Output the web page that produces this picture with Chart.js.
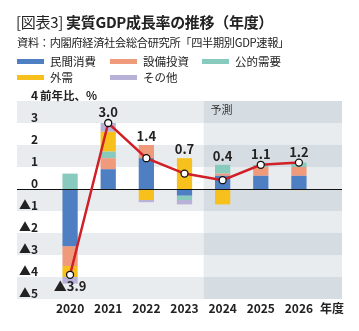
<!DOCTYPE html>
<html>
<head>
<meta charset="utf-8">
<script src="https://cdn.jsdelivr.net/npm/chart.js@4.4.1/dist/chart.umd.min.js"></script>
<style>
  body { margin: 0; background: #fff; }
  #wrap { position: relative; width: 359px; height: 331px; font-family: "Noto Sans CJK JP", "Noto Sans", sans-serif; color: #222; }
  #c { position: absolute; left: 0; top: 0; }
  .title { position: absolute; left: 16px; top: 11px; font-size: 15px; font-weight: bold; white-space: nowrap; letter-spacing: -0.3px; }
  .title span { font-weight: normal; }
  .sub { position: absolute; left: 17px; top: 34px; font-size: 11.2px; white-space: nowrap; letter-spacing: -0.3px; }
  .leg { position: absolute; font-size: 11.5px; white-space: nowrap; line-height: 14px; }
  .leg i { display: inline-block; width: 27px; height: 5px; vertical-align: middle; margin-right: 6px; position: relative; top: -1px; }
</style>
</head>
<body>
<div id="wrap">
  <canvas id="c" width="359" height="331"></canvas>
  <div class="title"><span>[図表3]</span> 実質GDP成長率の推移（年度）</div>
  <div class="sub">資料：内閣府経済社会総合研究所「四半期別GDP速報」</div>
  <div id="legend"></div>
</div>
<script>
const years = ['2020', '2021', '2022', '2023', '2024', '2025', '2026'];
const consumption = [-2.6, 0.9, 1.4, -0.3, 0.6, 0.6, 0.6];   // 民間消費
const capex = [-0.9, 0.5, 0.6, 0, 0.1, 0.4, 0.4];             // 設備投資
const publicDemand = [0.7, 0.3, 0, -0.2, 0.4, 0.1, 0.2];      // 公的需要
const external = [-0.5, 0.9, -0.5, 1.4, -0.7, 0, -0.05];      // 外需
const other = [-0.3, 0.4, -0.1, -0.2, 0, 0, 0];               // その他
const growth = [-3.9, 3.0, 1.4, 0.7, 0.4, 1.1, 1.2];          // 実質GDP成長率
const forecastFrom = '2024';

const series = [
    { label: '民間消費', data: consumption, color: '#4f7fc3' },
    { label: '設備投資', data: capex, color: '#ef9a7b' },
    { label: '公的需要', data: publicDemand, color: '#88cabd' },
    { label: '外需', data: external, color: '#f7c01c' },
    { label: 'その他', data: other, color: '#b9b2d8' }
];

// legend (html)
const legendPos = [[17, 54], [110, 54], [202, 54], [17, 70], [110, 70]];
const legendEl = document.getElementById('legend');
series.forEach((s, i) => {
    const d = document.createElement('div');
    d.className = 'leg';
    d.style.left = legendPos[i][0] + 'px';
    d.style.top = legendPos[i][1] + 'px';
    d.innerHTML = '<i style="background:' + s.color + '"></i>' + s.label;
    legendEl.appendChild(d);
});

const fontFamily = '"Noto Sans CJK JP", "Noto Sans", sans-serif';
const bandLeft = 17, bandRight = 342;

const backgroundPlugin = {
    id: 'bands',
    beforeDraw(chart) {
        const { ctx, scales: { x, y } } = chart;
        const fi = years.indexOf(forecastFrom);
        const split = (x.getPixelForValue(fi) + x.getPixelForValue(fi - 1)) / 2;
        ctx.save();
        for (let v = 4, k = 0; v > -5; v--, k++) {
            const top = y.getPixelForValue(v), bot = y.getPixelForValue(v - 1);
            const dark = k % 2 === 0;
            ctx.fillStyle = dark ? '#e9ecef' : '#ffffff';
            ctx.fillRect(bandLeft, top, split - bandLeft, bot - top);
            ctx.fillStyle = dark ? '#d6dde2' : '#e9ecef';
            ctx.fillRect(split, top, bandRight - split, bot - top);
        }
        ctx.fillStyle = '#333';
        ctx.font = '11px ' + fontFamily;
        ctx.textBaseline = 'middle';
        ctx.textAlign = 'left';
        ctx.fillText('予測', split + 7, y.getPixelForValue(3.6));
        ctx.restore();
    },
    beforeDatasetDraw(chart, args) {
        if (args.meta.type !== 'line') return;
        const { ctx, scales: { y } } = chart;
        const y0 = Math.round(y.getPixelForValue(0)) + 0.5;
        ctx.save();
        ctx.strokeStyle = '#111';
        ctx.lineWidth = 1;
        ctx.beginPath();
        ctx.moveTo(bandLeft, y0);
        ctx.lineTo(bandRight, y0);
        ctx.stroke();
        ctx.restore();
    },
    afterDatasetsDraw(chart) {
        const { ctx, scales: { x, y } } = chart;
        ctx.save();
        ctx.fillStyle = '#222';
        ctx.font = 'bold 13px ' + fontFamily;
        ctx.textAlign = 'center';
        ctx.textBaseline = 'middle';
        growth.forEach((g, i) => {
            const px = x.getPixelForValue(i);
            const dot = y.getPixelForValue(g);
            if (g >= 0) {
                let pos = 0;
                series.forEach(s => { if (s.data[i] > 0) pos += s.data[i]; });
                const top = Math.min(y.getPixelForValue(pos), dot - 2);
                ctx.fillText(g.toFixed(1), px, top - 9);
            } else {
                ctx.fillText('▲' + Math.abs(g).toFixed(1), px, dot + 11);
            }
        });
        ctx.font = 'bold 12px ' + fontFamily;
        ctx.textAlign = 'left';
        ctx.fillText('年度', 320, 308);
        ctx.font = 'bold 11.5px ' + fontFamily;
        ctx.fillText('前年比、%', 40, y.getPixelForValue(4) - 5);
        ctx.restore();
    }
};

const datasets = series.map(s => ({
    type: 'bar',
    label: s.label,
    data: s.data,
    backgroundColor: s.color,
    stack: 'gdp',
    order: 1,
    barPercentage: 0.4,
    categoryPercentage: 1
}));
datasets.push({
    type: 'line',
    label: '実質GDP成長率',
    data: growth,
    borderColor: '#d01f26',
    borderWidth: 2.5,
    pointRadius: 3.5,
    pointBackgroundColor: '#ffffff',
    pointBorderColor: '#111',
    pointBorderWidth: 1.3,
    order: 0
});

new Chart(document.getElementById('c'), {
    type: 'bar',
    data: { labels: years, datasets: datasets },
    plugins: [backgroundPlugin],
    options: {
        responsive: false,
        animation: false,
        layout: { padding: { top: 101, right: 41, bottom: 0, left: 0 } },
        plugins: { legend: { display: false }, tooltip: { enabled: false } },
        scales: {
            x: {
                stacked: true,
                grid: { display: false, drawTicks: false },
                border: { display: false },
                ticks: { color: '#222', font: { family: fontFamily, size: 12, weight: 'bold' }, padding: 2, maxRotation: 0 },
                afterFit(scale) { scale.height = 32; }
            },
            y: {
                stacked: true,
                min: -5,
                max: 4,
                grid: { display: false, drawTicks: false },
                border: { display: false },
                ticks: {
                    stepSize: 1,
                    padding: 13,
                    labelOffset: -6,
                    color: '#222',
                    font: { family: fontFamily, size: 12, weight: 'bold' },
                    callback: v => v < 0 ? '▲' + Math.abs(v) : String(v)
                },
                afterFit(scale) { scale.width = 51; }
            }
        }
    }
});
</script>
</body>
</html>
